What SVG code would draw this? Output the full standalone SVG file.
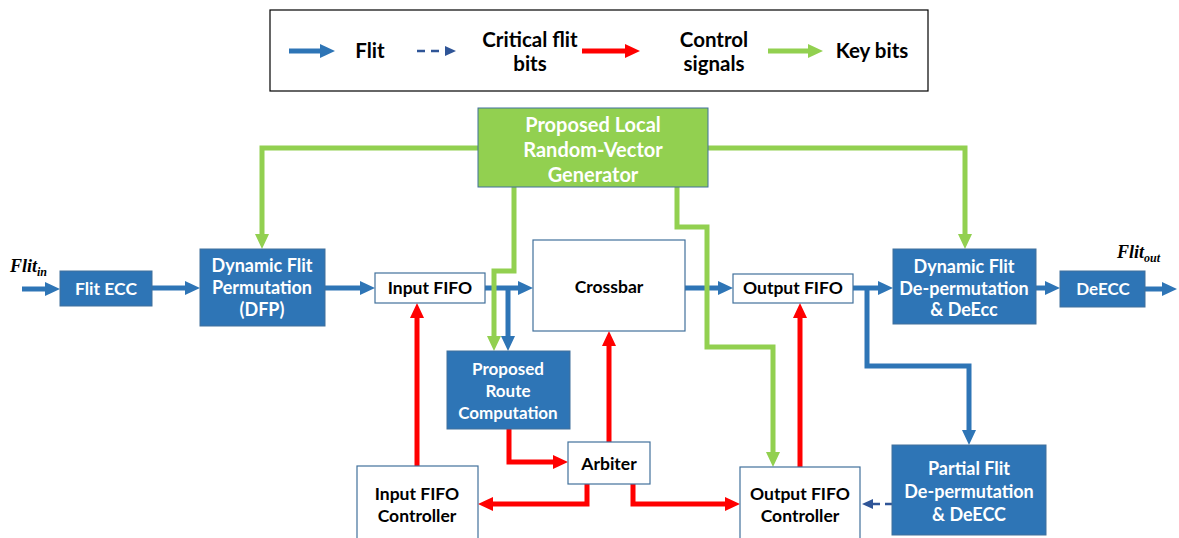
<svg xmlns="http://www.w3.org/2000/svg" width="1179" height="538" viewBox="0 0 1179 538">
<style>
.bf{fill:#2E75B6;stroke:#41719C;stroke-width:1}
.wf{fill:#ffffff;stroke:#41719C;stroke-width:1.2}
.gf{fill:#92D050;stroke:#41719C;stroke-width:1}
.tw{font-family:Lato,"Liberation Sans",sans-serif;font-weight:bold;font-size:18px;fill:#ffffff;text-anchor:middle}
.tb{font-family:Lato,"Liberation Sans",sans-serif;font-weight:bold;font-size:17.5px;fill:#000000;text-anchor:middle}
.tl{font-family:Lato,"Liberation Sans",sans-serif;font-weight:bold;font-size:20.5px;fill:#000000;text-anchor:middle}
.math{font-family:"Liberation Serif","DejaVu Serif",serif;font-weight:bold;font-style:italic;fill:#000000}
.cb{fill:none;stroke:#2E75B6;stroke-width:5}
.cg{fill:none;stroke:#92D050;stroke-width:5}
.cr{fill:none;stroke:#FF0000;stroke-width:5}
.cd{fill:none;stroke:#2F5597;stroke-width:2.5;stroke-dasharray:7,5}
</style>
<defs>
<marker id="mb" markerUnits="userSpaceOnUse" markerWidth="15" markerHeight="15" viewBox="0 0 15 15" refX="1" refY="7.5" orient="auto"><path d="M0,0.5 L15,7.5 L0,14.5 z" fill="#2E75B6"/></marker>
<marker id="mg" markerUnits="userSpaceOnUse" markerWidth="15" markerHeight="15" viewBox="0 0 15 15" refX="1" refY="7.5" orient="auto"><path d="M0,0.5 L15,7.5 L0,14.5 z" fill="#92D050"/></marker>
<marker id="mr" markerUnits="userSpaceOnUse" markerWidth="15" markerHeight="15" viewBox="0 0 15 15" refX="1" refY="7.5" orient="auto"><path d="M0,0.5 L15,7.5 L0,14.5 z" fill="#FF0000"/></marker>
<marker id="md" markerUnits="userSpaceOnUse" markerWidth="11" markerHeight="11" viewBox="0 0 11 11" refX="1" refY="5.5" orient="auto"><path d="M0,0.5 L11,5.5 L0,10.5 z" fill="#2F5597"/></marker>
</defs>

<g id="legend">
<rect x="270" y="10" width="658" height="81" fill="#ffffff" stroke="#000000" stroke-width="1.2"/>
<path class="cb" d="M289,51 H321" marker-end="url(#mb)"/>
<text class="tl" x="370" y="58">Flit</text>
<path class="cd" d="M417,51 H446" style="stroke-dasharray:8,6" marker-end="url(#md)"/>
<text class="tl" x="530" y="47">Critical flit</text>
<text class="tl" x="530" y="71">bits</text>
<path class="cr" d="M582,51 H626" marker-end="url(#mr)"/>
<text class="tl" x="714" y="47">Control</text>
<text class="tl" x="714" y="71">signals</text>
<path class="cg" d="M768,51 H809" marker-end="url(#mg)"/>
<text class="tl" x="872" y="58">Key bits</text>
</g>

<g id="connectors">
<!-- blue flit -->
<path class="cb" d="M22,289 H46" marker-end="url(#mb)"/>
<path class="cb" d="M152,288 H186" marker-end="url(#mb)"/>
<path class="cb" d="M325,288 H361" marker-end="url(#mb)"/>
<path class="cb" d="M485,288 H519" marker-end="url(#mb)"/>
<path class="cb" d="M508,288 V337" marker-end="url(#mb)"/>
<path class="cb" d="M685,288 H719" marker-end="url(#mb)"/>
<path class="cb" d="M853,288 H879" marker-end="url(#mb)"/>
<path class="cb" d="M867,288 V366 H969 V431" marker-end="url(#mb)"/>
<path class="cb" d="M1036,288 H1046" marker-end="url(#mb)"/>
<path class="cb" d="M1145,289 H1163" marker-end="url(#mb)"/>
<!-- green key bits -->
<path class="cg" d="M478,148 H262 V235" marker-end="url(#mg)"/>
<path class="cg" d="M708,148 H965 V235" marker-end="url(#mg)"/>
<path class="cg" d="M514,187 V271 H494 V337" marker-end="url(#mg)"/>
<path class="cg" d="M677,187 V227 H707 V347 H773 V453" marker-end="url(#mg)"/>
<!-- red control -->
<path class="cr" d="M417,466 V317" marker-end="url(#mr)"/>
<path class="cr" d="M509,429 V462 H554" marker-end="url(#mr)"/>
<path class="cr" d="M609,442 V345" marker-end="url(#mr)"/>
<path class="cr" d="M587,484 V504 H492" marker-end="url(#mr)"/>
<path class="cr" d="M633,484 V504 H726" marker-end="url(#mr)"/>
<path class="cr" d="M800,467 V317" marker-end="url(#mr)"/>
<!-- dashed critical flit bits -->
<path class="cd" d="M892,504 H872" marker-end="url(#md)"/>
</g>

<g id="flit-in-label">
<text class="math" x="10" y="272" style="font-size:18px">Flit<tspan style="font-size:12px" dy="4">in</tspan></text>
</g>
<g id="flit-out-label">
<text class="math" x="1117" y="258" style="font-size:18px">Flit<tspan style="font-size:12px" dy="4">out</tspan></text>
</g>

<g id="generator">
<rect class="gf" x="478" y="108" width="230" height="79"/>
<text class="tw" x="593" y="132" style="font-size:20px">Proposed Local</text>
<text class="tw" x="593" y="157" style="font-size:20px">Random-Vector</text>
<text class="tw" x="593" y="182" style="font-size:20px">Generator</text>
</g>

<g id="flit-ecc">
<rect class="bf" x="60" y="271" width="92" height="35"/>
<text class="tw" x="106" y="295" style="font-size:17.5px">Flit ECC</text>
</g>

<g id="dfp">
<rect class="bf" x="200" y="249" width="125" height="77"/>
<text class="tw" x="262" y="272">Dynamic Flit</text>
<text class="tw" x="262" y="294">Permutation</text>
<text class="tw" x="262" y="316">(DFP)</text>
</g>

<g id="input-fifo">
<rect class="wf" x="375" y="273" width="110" height="30"/>
<text class="tb" x="430" y="294">Input FIFO</text>
</g>

<g id="crossbar">
<rect class="wf" x="533" y="240" width="152" height="91"/>
<text class="tb" x="609" y="293">Crossbar</text>
</g>

<g id="output-fifo">
<rect class="wf" x="733" y="274" width="120" height="29"/>
<text class="tb" x="793" y="294">Output FIFO</text>
</g>

<g id="de-permutation">
<rect class="bf" x="893" y="249" width="143" height="75"/>
<text class="tw" x="964" y="273">Dynamic Flit</text>
<text class="tw" x="964" y="295">De-permutation</text>
<text class="tw" x="964" y="316">&amp; DeEcc</text>
</g>

<g id="deecc">
<rect class="bf" x="1060" y="271" width="85" height="36"/>
<text class="tw" x="1103" y="295" style="font-size:17px">DeECC</text>
</g>

<g id="route-computation">
<rect class="bf" x="447" y="351" width="123" height="78"/>
<text class="tw" x="508" y="375" style="font-size:17px">Proposed</text>
<text class="tw" x="508" y="397" style="font-size:17px">Route</text>
<text class="tw" x="508" y="419" style="font-size:17px">Computation</text>
</g>

<g id="arbiter">
<rect class="wf" x="568" y="442" width="82" height="42"/>
<text class="tb" x="609" y="470">Arbiter</text>
</g>

<g id="input-fifo-controller">
<rect class="wf" x="357" y="466" width="121" height="80"/>
<text class="tb" x="417" y="500">Input FIFO</text>
<text class="tb" x="417" y="522">Controller</text>
</g>

<g id="output-fifo-controller">
<rect class="wf" x="740" y="467" width="120" height="80"/>
<text class="tb" x="800" y="500">Output FIFO</text>
<text class="tb" x="800" y="522">Controller</text>
</g>

<g id="partial-de-permutation">
<rect class="bf" x="892" y="445" width="154" height="90"/>
<text class="tw" x="969" y="475">Partial Flit</text>
<text class="tw" x="969" y="498">De-permutation</text>
<text class="tw" x="969" y="521">&amp; DeECC</text>
</g>
</svg>
